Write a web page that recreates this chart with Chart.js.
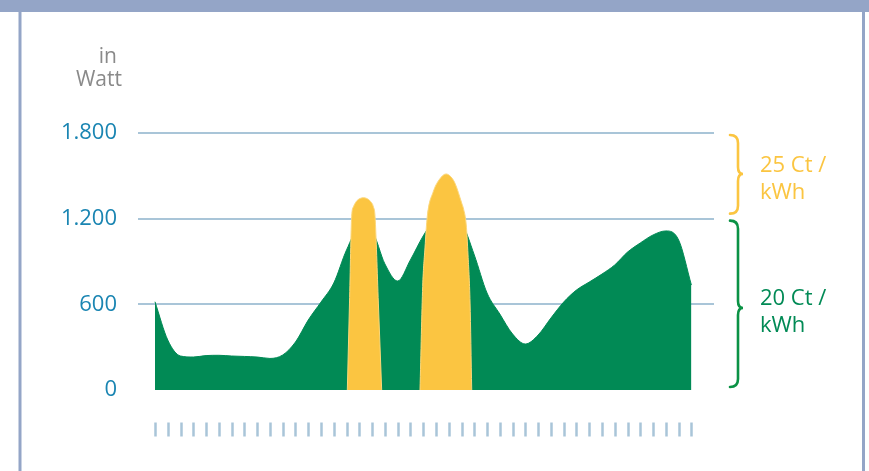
<!DOCTYPE html>
<html>
<head>
<meta charset="utf-8">
<script src="https://cdn.jsdelivr.net/npm/chart.js@4.4.1/dist/chart.umd.min.js"></script>
<style>
  html, body { margin: 0; padding: 0; background: #ffffff; }
  #wrap { width: 869px; height: 471px; }
</style>
</head>
<body>
<div id="wrap"><canvas id="c" width="869" height="471"></canvas></div>
<script>
// ---- data ----
const slotCount = 43;                       // number of small tick marks under the chart
const greenPower = [618, 350, 238, 231, 241, 243, 238, 235, 231, 221, 245, 336, 490, 616, 749, 981, 1135, 1107, 883, 763, 911, 1079, 1205, 1247, 1177, 946, 679, 532, 392, 322, 385, 504, 616, 700, 756, 812, 876, 966, 1030, 1086, 1114, 1051, 735];
const peak1X = [15.06, 15.23, 15.40, 15.54, 15.77, 16.05, 16.32, 16.59, 16.87, 17.10, 17.23, 17.49, 17.75];
const peak1Y = [0, 609, 1214, 1283, 1321, 1341, 1347, 1341, 1321, 1283, 1214, 609, 0];
const peak2X = [20.75, 20.96, 21.14, 21.32, 21.79, 22.24, 22.79, 23.18, 23.49, 24.02, 24.16, 24.37, 24.51, 24.67, 24.80];
const peak2Y = [0, 724, 995, 1214, 1389, 1471, 1513, 1492, 1448, 1308, 1268, 1156, 946, 609, 0];
const yTickValues = [0, 600, 1200, 1800];
const yTickLabels = ['0', '600', '1.200', '1.800'];
const unitLines = ['in', 'Watt'];
const tariffHigh = ['25 Ct /', 'kWh'];
const tariffLow = ['20 Ct /', 'kWh'];

// ---- styles ----
const GREEN = '#018a55';
const YELLOW = '#fbc541';
const GRID = '#a9c5d8';
const TICKTEXT = '#1a85b2';
const FRAME = '#94a5c7';
const FONT = '"Open Sans", "Noto Sans", sans-serif';

const greenPts = greenPower.map((v, i) => ({ x: i, y: v }));
const p1 = peak1X.map((x, i) => ({ x: x, y: peak1Y[i] }));
const p2 = peak2X.map((x, i) => ({ x: x, y: peak2Y[i] }));

function brace(ctx, x0, top, bottom, tipY, color) {
  const r = 8;
  ctx.save();
  ctx.strokeStyle = color;
  ctx.lineWidth = 2.6;
  ctx.lineCap = 'round';
  ctx.beginPath();
  ctx.moveTo(x0, top);
  ctx.quadraticCurveTo(x0 + r, top, x0 + r, top + r);
  ctx.lineTo(x0 + r, tipY - r + 1);
  ctx.quadraticCurveTo(x0 + r, tipY, x0 + r + 5, tipY);
  ctx.quadraticCurveTo(x0 + r, tipY, x0 + r, tipY + r - 1);
  ctx.lineTo(x0 + r, bottom - r);
  ctx.quadraticCurveTo(x0 + r, bottom, x0, bottom);
  ctx.stroke();
  ctx.restore();
}

const decor = {
  id: 'decor',
  beforeDraw(chart) {
    const ctx = chart.ctx;
    ctx.save();
    ctx.fillStyle = '#ffffff';
    ctx.fillRect(0, 0, chart.width, chart.height);
    ctx.fillStyle = FRAME;
    ctx.fillRect(0, 0, chart.width, 12);
    ctx.fillRect(18.5, 0, 3, chart.height);
    ctx.fillRect(862, 0, 3, chart.height);
    ctx.restore();
  },
  afterDraw(chart) {
    const ctx = chart.ctx;
    const xs = chart.scales.x, ys = chart.scales.y;
    const base = ys.getPixelForValue(0);
    ctx.save();
    // small tick marks below the chart
    ctx.strokeStyle = GRID;
    ctx.lineWidth = 2.5;
    for (let i = 0; i < slotCount; i++) {
      const px = Math.round(xs.getPixelForValue(i)) + 0.5;
      ctx.beginPath();
      ctx.moveTo(px, base + 32.5);
      ctx.lineTo(px, base + 46.5);
      ctx.stroke();
    }
    // unit label
    ctx.fillStyle = '#8a8a8a';
    ctx.font = '21px ' + FONT;
    ctx.textAlign = 'right';
    ctx.textBaseline = 'alphabetic';
    ctx.fillText(unitLines[0], 117, 63);
    ctx.fillText(unitLines[1], 122, 86);
    // braces
    const y1800 = ys.getPixelForValue(1800);
    const y1200 = ys.getPixelForValue(1200);
    brace(ctx, 730, y1800 + 2, y1200 - 5, 174, YELLOW);
    brace(ctx, 730, y1200 + 2, base - 3, 308, '#0b9245');
    // tariff labels
    ctx.textAlign = 'left';
    ctx.font = '22px ' + FONT;
    ctx.fillStyle = YELLOW;
    ctx.fillText(tariffHigh[0], 760, 172);
    ctx.fillText(tariffHigh[1], 760, 198.5);
    ctx.fillStyle = GREEN;
    ctx.fillText(tariffLow[0], 760, 305);
    ctx.fillText(tariffLow[1], 760, 332);
    ctx.restore();
  }
};

new Chart(document.getElementById('c'), {
  type: 'line',
  data: {
    datasets: [
      { data: p1, parsing: false, fill: 'origin', backgroundColor: YELLOW, borderColor: '#fcd77a', borderWidth: 1, pointRadius: 0, cubicInterpolationMode: 'monotone', tension: 0.4 },
      { data: p2, parsing: false, fill: 'origin', backgroundColor: YELLOW, borderColor: '#fcd77a', borderWidth: 1, pointRadius: 0, cubicInterpolationMode: 'monotone', tension: 0.4 },
      { data: greenPts, parsing: false, fill: 'origin', backgroundColor: GREEN, borderColor: GREEN, borderWidth: 1, pointRadius: 0, cubicInterpolationMode: 'monotone', tension: 0.4 }
    ]
  },
  options: {
    responsive: false,
    animation: false,
    devicePixelRatio: 1,
    layout: { padding: { top: 133, right: 155, bottom: 81, left: 0 } },
    plugins: { legend: { display: false }, tooltip: { enabled: false } },
    scales: {
      x: { type: 'linear', min: -1.33, max: 43.77, display: false },
      y: {
        min: 0, max: 1800,
        afterBuildTicks: (s) => { s.ticks = yTickValues.map(v => ({ value: v })); },
        afterFit: (s) => { s.width = 138; },
        border: { display: false },
        grid: {
          drawTicks: false,
          lineWidth: 2,
          color: (c) => (c.tick && c.tick.value === 0) ? 'rgba(0,0,0,0)' : GRID
        },
        ticks: {
          padding: 21,
          color: TICKTEXT,
          font: { family: FONT, size: 22 },
          callback: (v) => yTickLabels[yTickValues.indexOf(v)]
        }
      }
    }
  },
  plugins: [decor]
});
</script>
</body>
</html>
